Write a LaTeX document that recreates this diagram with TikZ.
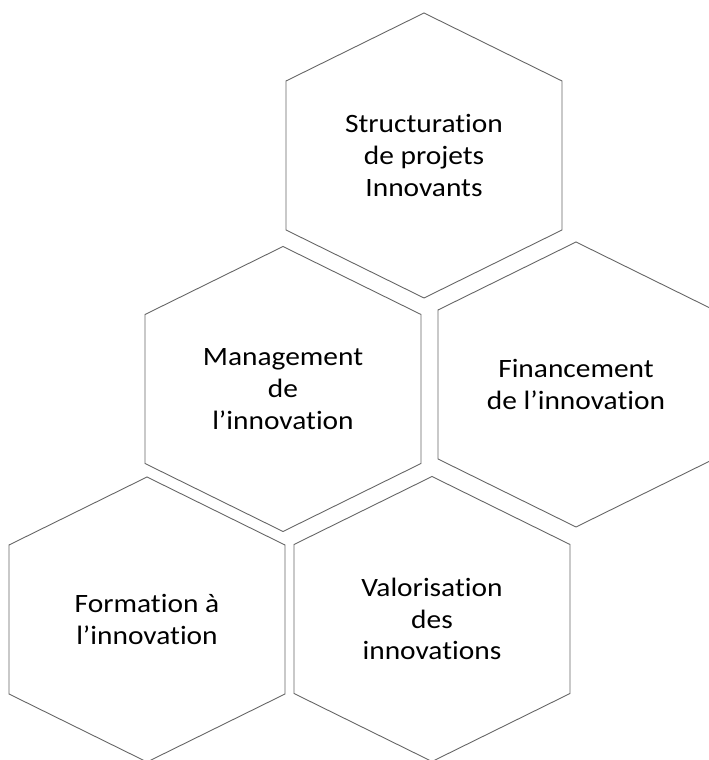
\documentclass[tikz,border=0pt]{standalone}
\usepackage{fontspec}
\setmainfont[FakeStretch=1.11, Ligatures=NoCommon]{Carlito}
\usepackage{tikz}
\usetikzlibrary{positioning}
\definecolor{hexgray}{HTML}{666666}

\begin{document}
\begin{tikzpicture}[
                    x=1pt, y=1pt,
                    hextext/.style={align=center, inner sep=0pt, font=\fontsize{26.5}{31.7}\selectfont},
                    hexline/.style={draw=hexgray, line width=0.9pt, line join=miter}
                ]
                    \useasboundingbox (0,0) rectangle (709,760);
                    \foreach \nom/\px/\py/\txt in {
                        struct/424/604.5/{Structuration\\de projets\\Innovants},
                        manag/283/371/{Management\\de\\l’innovation},
                        finan/576/375.5/{Financement\\de l’innovation},
                        form/147/140.5/{Formation à\\l’innovation},
                        valo/432/141/{Valorisation\\des\\innovations}}
                    {
                        \node[hextext] (\nom) at (\px,\py) {\txt};
                        \draw[hexline] (\nom.center) ++(0,142.5) -- ++(138,-68) -- ++(0,-149)
                            -- ++(-138,-68) -- ++(-138,68) -- ++(0,149) -- cycle;
                    }
                \end{tikzpicture}
\end{document}
